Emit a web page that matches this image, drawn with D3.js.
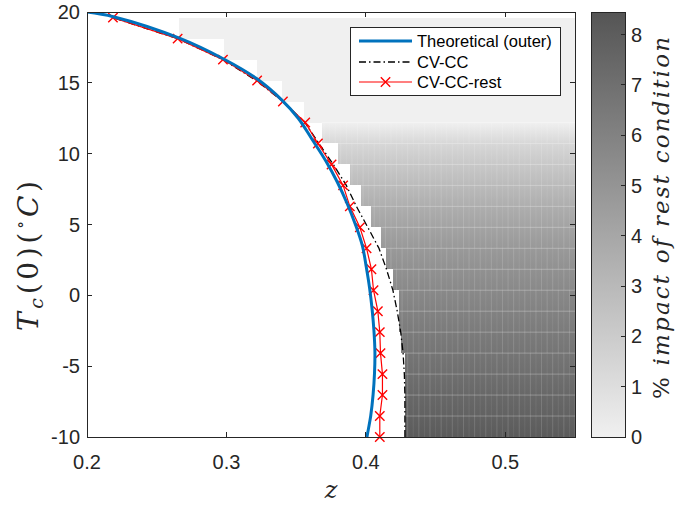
<!DOCTYPE html>
<html><head><meta charset="utf-8">
<script src="https://cdn.jsdelivr.net/npm/d3@7/dist/d3.min.js"></script>
<style>body{margin:0;background:#fff;} svg{display:block;}</style>
</head><body><svg id="c" width="679" height="506"></svg>
<script>
// ---------- data ----------
const tGrid = [-10,-8.52,-7.04,-5.56,-4.08,-2.6,-1.12,0.36,1.84,3.32,4.8,6.28,7.76,9.24,10.72,12.2,13.68,15.16,16.64,18.12,19.6];
const impactValues = [8.1,7.75,7.4,7.05,6.72,6.38,6.02,5.62,5.18,4.73,4.19,3.59,2.9,2.2,1.38,0,0,0,0,0,0];
const heatStartZ = [0.428,0.428,0.428,0.428,0.4251,0.424,0.4237,0.4194,0.4148,0.4111,0.4039,0.3968,0.3885,0.3799,0.3682,0.3556,0.3396,0.3219,0.2982,0.266];
const cvccZ = [0.428,0.428,0.428,0.4276,0.4267,0.425,0.4225,0.4194,0.4148,0.4094,0.4014,0.3932,0.386,0.3767,0.3663,0.3563,0.3405,0.3215,0.2975,0.265,0.2186];
const restZ = [0.41,0.41,0.4119,0.4119,0.4105,0.41,0.4086,0.4055,0.404,0.4005,0.3957,0.3885,0.3837,0.3754,0.3656,0.3565,0.3405,0.322,0.2975,0.265,0.2186];
const theoT = [20,19.67,18.14,16.7,15.3,13.8,12.5,11,9.5,8,6.5,5,3.5,2,0.5,-1,-2.5,-4,-5.5,-7,-8.5,-9.5,-10];
const theoZ = [0.2,0.2189,0.2667,0.2977,0.3216,0.3396,0.3515,0.3615,0.3712,0.3795,0.3865,0.3925,0.3975,0.4003,0.4027,0.4045,0.4058,0.4065,0.4062,0.4052,0.4035,0.4017,0.4008];
const xTicks = [0.2,0.3,0.4,0.5];
const yTicks = [-10,-5,0,5,10,15,20];
const cbTicks = [0,1,2,3,4,5,6,7,8];
const legendLabels = ["Theoretical (outer)","CV-CC","CV-CC-rest"];

// ---------- scales ----------
const svg = d3.select("#c");
const x = d3.scaleLinear().domain([0.2,0.55]).range([87,575]);
const y = d3.scaleLinear().domain([-10,20]).range([437,12]);
const cmax = 8.45;
const color = d3.scaleLinear().domain([0,cmax]).range(["#f0f0f0","#555555"]).interpolate(d3.interpolateRgb);
const cy = d3.scaleLinear().domain([0,cmax]).range([437,12]);
const axisCol = "#262626";
const sans = "'Liberation Sans', Arial, Helvetica, sans-serif";
const serif = "'DejaVu Serif', 'Liberation Serif', serif";

const defs = svg.append("defs");
defs.append("clipPath").attr("id","pc").append("rect")
  .attr("x",x(0.2)).attr("y",y(20)).attr("width",x(0.55)-x(0.2)).attr("height",y(-10)-y(20));

// ---------- heat map ----------
const heat = svg.append("g").attr("clip-path","url(#pc)");
heatStartZ.forEach((z0,k)=>{
  const id = "hg"+k;
  const g = defs.append("linearGradient").attr("id",id).attr("x1",0).attr("y1",1).attr("x2",0).attr("y2",0);
  g.append("stop").attr("offset",0).attr("stop-color",color(impactValues[k]));
  g.append("stop").attr("offset",1).attr("stop-color",color(impactValues[k+1]));
  heat.append("rect")
    .attr("x",x(z0)).attr("y",y(tGrid[k+1]))
    .attr("width",x(0.55)-x(z0)).attr("height",y(tGrid[k])-y(tGrid[k+1]))
    .attr("fill",`url(#${id})`).attr("shape-rendering","crispEdges");
});
// faint cell edges
const zCols = d3.range(0.266,0.5501,0.004);
heatStartZ.forEach((z0,k)=>{
  if (impactValues[k+1] <= 0 && impactValues[k] <= 0) return;
  heat.append("line").attr("x1",x(z0)).attr("x2",x(0.55))
    .attr("y1",y(tGrid[k+1])).attr("y2",y(tGrid[k+1]))
    .attr("stroke","#ffffff").attr("stroke-opacity",0.28).attr("stroke-width",1);
  zCols.filter(z=>z>=z0).forEach((z,j)=>{
    heat.append("line").attr("x1",x(z)).attr("x2",x(z))
      .attr("y1",y(tGrid[k+1])).attr("y2",y(tGrid[k]))
      .attr("stroke","#ffffff").attr("stroke-opacity",j%2?0.08:0.15).attr("stroke-width",1);
  });
});

// ---------- curves ----------
const curves = svg.append("g").attr("clip-path","url(#pc)");
const cvccPts = tGrid.map((t,i)=>[cvccZ[i],t]);
const restPts = tGrid.map((t,i)=>[restZ[i],t]);
const theoPts = theoT.map((t,i)=>[theoZ[i],t]);
const line = d3.line().x(d=>x(d[0])).y(d=>y(d[1]));
curves.append("path").attr("d",line(cvccPts)).attr("fill","none")
  .attr("stroke","#000").attr("stroke-width",1.3).attr("stroke-dasharray","7,3,1.5,3");
curves.append("path").attr("d",line(restPts)).attr("fill","none")
  .attr("stroke","#ff0000").attr("stroke-width",1.2);
const xm = 4.7;
function xMark(g,cx,cyy){
  g.append("path").attr("d",`M${cx-xm},${cyy-xm}L${cx+xm},${cyy+xm}M${cx-xm},${cyy+xm}L${cx+xm},${cyy-xm}`)
   .attr("stroke","#ff0000").attr("stroke-width",1.4).attr("fill","none");
}
const mg = svg.append("g");
restPts.forEach(d=>xMark(mg,x(d[0]),y(d[1])));
svg.append("path").attr("clip-path","url(#pc)")
  .attr("d",d3.line().x(d=>x(d[0])).y(d=>y(d[1])).curve(d3.curveCatmullRom)(theoPts))
  .attr("fill","none").attr("stroke","#0072BD").attr("stroke-width",3);

// ---------- axes ----------
const ax = svg.append("g");
ax.append("rect").attr("x",x(0.2)).attr("y",y(20)).attr("width",x(0.55)-x(0.2)).attr("height",y(-10)-y(20))
  .attr("fill","none").attr("stroke",axisCol).attr("stroke-width",1).attr("shape-rendering","crispEdges");
const tl = 5;
xTicks.forEach(v=>{
  ax.append("line").attr("x1",x(v)).attr("x2",x(v)).attr("y1",y(-10)).attr("y2",y(-10)-tl).attr("stroke",axisCol).attr("shape-rendering","crispEdges");
  ax.append("line").attr("x1",x(v)).attr("x2",x(v)).attr("y1",y(20)).attr("y2",y(20)+tl).attr("stroke",axisCol).attr("shape-rendering","crispEdges");
  ax.append("text").attr("x",x(v)).attr("y",y(-10)+32).attr("text-anchor","middle")
    .attr("font-family",sans).attr("font-size",20).attr("fill",axisCol).text(v.toFixed(1));
});
yTicks.forEach(v=>{
  ax.append("line").attr("x1",x(0.2)).attr("x2",x(0.2)+tl).attr("y1",y(v)).attr("y2",y(v)).attr("stroke",axisCol).attr("shape-rendering","crispEdges");
  ax.append("line").attr("x1",x(0.55)).attr("x2",x(0.55)-tl).attr("y1",y(v)).attr("y2",y(v)).attr("stroke",axisCol).attr("shape-rendering","crispEdges");
  ax.append("text").attr("x",x(0.2)-7).attr("y",y(v)+7).attr("text-anchor","end")
    .attr("font-family",sans).attr("font-size",20).attr("fill",axisCol).text(v);
});
// x label
ax.append("text").attr("x",(x(0.2)+x(0.55))/2).attr("y",498).attr("text-anchor","middle")
  .attr("font-family",serif).attr("font-style","italic").attr("font-size",24).attr("fill",axisCol).text("z");
// y label
const yl = ax.append("text").attr("transform","translate(38,256) rotate(-90)").attr("text-anchor","middle")
  .attr("font-family",serif).attr("font-size",28).attr("fill",axisCol).attr("textLength",150).attr("lengthAdjust","spacing");
yl.append("tspan").attr("font-style","italic").text("T");
yl.append("tspan").attr("font-style","italic").attr("font-size",19).attr("dy",5).text("c");
yl.append("tspan").attr("dy",-5).text("(0)(");
yl.append("tspan").attr("font-size",17).attr("dy",-12).text("∘");
yl.append("tspan").attr("font-style","italic").attr("dy",12).text("C");
yl.append("tspan").text(")");

// ---------- legend ----------
const lg = svg.append("g");
lg.append("rect").attr("x",350).attr("y",27).attr("width",210).attr("height",68)
  .attr("fill","#fff").attr("stroke",axisCol).attr("stroke-width",1).attr("shape-rendering","crispEdges");
const ly = [41,62,82];
lg.append("line").attr("x1",359).attr("x2",412).attr("y1",ly[0]).attr("y2",ly[0]).attr("stroke","#0072BD").attr("stroke-width",3);
lg.append("line").attr("x1",359).attr("x2",412).attr("y1",ly[1]).attr("y2",ly[1]).attr("stroke","#000").attr("stroke-width",1.3).attr("stroke-dasharray","7,3,1.5,3");
lg.append("line").attr("x1",359).attr("x2",412).attr("y1",ly[2]).attr("y2",ly[2]).attr("stroke","#ff0000").attr("stroke-width",1.2);
xMark(lg,385.5,ly[2]);
legendLabels.forEach((s,i)=>{
  lg.append("text").attr("x",417).attr("y",ly[i]+5.5).attr("font-family",sans).attr("font-size",16.5)
    .attr("fill","#000").text(s);
});

// ---------- colorbar ----------
const cbg = defs.append("linearGradient").attr("id","cbg").attr("x1",0).attr("y1",1).attr("x2",0).attr("y2",0);
cbg.append("stop").attr("offset",0).attr("stop-color",color(0));
cbg.append("stop").attr("offset",1).attr("stop-color",color(cmax));
const cbx0 = 591, cbx1 = 625;
svg.append("rect").attr("x",cbx0).attr("y",cy(cmax)).attr("width",cbx1-cbx0).attr("height",cy(0)-cy(cmax))
  .attr("fill","url(#cbg)").attr("stroke",axisCol).attr("stroke-width",1).attr("shape-rendering","crispEdges");
cbTicks.forEach(v=>{
  svg.append("line").attr("x1",cbx1).attr("x2",cbx1-4).attr("y1",cy(v)).attr("y2",cy(v)).attr("stroke",axisCol).attr("shape-rendering","crispEdges");
  svg.append("text").attr("x",cbx1+6).attr("y",cy(v)+7).attr("font-family",sans).attr("font-size",20)
    .attr("fill",axisCol).text(v);
});
const cl = svg.append("text").attr("transform","translate(669,218) rotate(-90)").attr("text-anchor","middle")
  .attr("font-family",serif).attr("font-size",23).attr("fill",axisCol).attr("textLength",362).attr("lengthAdjust","spacing");
cl.append("tspan").text("% ");
cl.append("tspan").attr("font-style","italic").text("impact of rest condition");
</script>
</body></html>
